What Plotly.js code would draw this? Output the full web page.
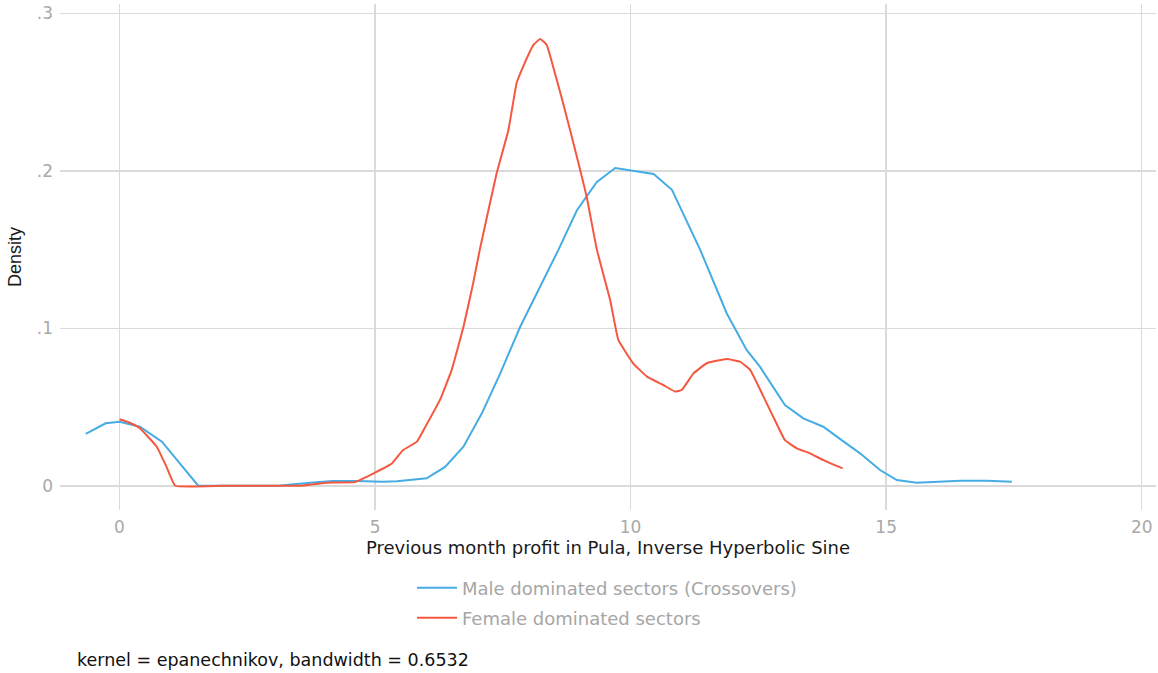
<!DOCTYPE html>
<html>
<head>
<meta charset="utf-8">
<script src="https://cdn.plot.ly/plotly-3.0.1.min.js"></script>
<style>
  html, body { margin: 0; padding: 0; background: #ffffff; }
  #chart { width: 1158px; height: 673px; }
</style>
</head>
<body>
<div id="chart"></div>
<script>
// Kernel density estimates of previous month profit (inverse hyperbolic sine of Pula)

const maleName = "Male dominated sectors (Crossovers)";
const maleX = [-0.66, -0.27, 0.0, 0.4, 0.83, 1.54, 2.0, 2.5, 3.1, 3.79, 4.18, 4.65, 5.15, 5.43,
  6.01, 6.37, 6.73, 7.09, 7.45, 7.84, 8.23, 8.59, 8.95, 9.34, 9.70, 10.45, 10.81, 11.36,
  11.88, 12.27, 12.53, 13.02, 13.38, 13.77, 14.13, 14.49, 14.88, 15.21, 15.6, 16.45, 16.97, 17.46];
const maleY = [0.0329, 0.0397, 0.0407, 0.0375, 0.028, 0, 0, 0, 0, 0.002, 0.003, 0.003, 0.0025, 0.0028,
  0.0047, 0.012, 0.0248, 0.046, 0.0714, 0.101, 0.1265, 0.150, 0.175, 0.193, 0.2018, 0.198, 0.188, 0.150,
  0.1096, 0.0863, 0.0757, 0.0513, 0.0428, 0.0375, 0.029, 0.0206, 0.010, 0.0036, 0.0019, 0.0032, 0.0032, 0.0025];

const femaleName = "Female dominated sectors";
const femaleX = [0, 0.2, 0.4, 0.73, 0.92, 1.09, 2.0, 3.0, 3.53, 3.92, 4.18, 4.61, 4.84, 5.1, 5.33,
  5.55, 5.82, 5.95, 6.27, 6.5, 6.73, 6.92, 7.05, 7.38, 7.61, 7.77, 7.9, 8.1, 8.23, 8.36, 8.52,
  8.68, 8.98, 9.14, 9.34, 9.6, 9.76, 10.05, 10.32, 10.64, 10.87, 11.0, 11.23, 11.49, 11.88,
  12.14, 12.34, 12.6, 12.79, 13.02, 13.25, 13.51, 13.77, 14.15];
const femaleY = [0.0422, 0.040, 0.0365, 0.0248, 0.012, 0, 0, 0, 0, 0.0015, 0.0021, 0.0023, 0.0057, 0.010, 0.0142,
  0.0227, 0.028, 0.0354, 0.0545, 0.0736, 0.101, 0.1287, 0.150, 0.1986, 0.226, 0.2558, 0.2664, 0.280, 0.2838, 0.280, 0.262,
  0.243, 0.205, 0.1837, 0.150, 0.118, 0.0926, 0.0778, 0.0693, 0.064, 0.0598, 0.0608, 0.0714, 0.0778, 0.0805,
  0.0788, 0.0736, 0.0566, 0.0439, 0.029, 0.0238, 0.0206, 0.0163, 0.011];

const xTicks = [0, 5, 10, 15, 20];
const xTickText = ["0", "5", "10", "15", "20"];
const yTicks = [0, 0.1, 0.2, 0.3];
const yTickText = ["0", ".1", ".2", ".3"];

const xTitle = "Previous month profit in Pula, Inverse Hyperbolic Sine";
const yTitle = "Density";
const note = "kernel = epanechnikov, bandwidth = 0.6532";

const WIDE = "DejaVu Sans, Verdana, sans-serif";
const NARROW = "Liberation Sans, Arial, sans-serif";
const BLUE = "#45ace4";
const RED = "#f6583f";
const GRID = "#dadada";
const TICK_GREY = "#a9a9a9";

const traces = [
  {
    x: maleX, y: maleY, type: "scatter", mode: "lines", name: maleName,
    line: { color: BLUE, width: 2 }, legend: "legend"
  },
  {
    x: femaleX, y: femaleY, type: "scatter", mode: "lines", name: femaleName,
    line: { color: RED, width: 2, shape: "spline", smoothing: 0.3 }, legend: "legend2"
  }
];

const legendStyle = {
  orientation: "v",
  xanchor: "left", yanchor: "middle",
  bgcolor: "rgba(0,0,0,0)",
  font: { family: WIDE, size: 18, color: "#a6a6a6" },
  itemwidth: 40
};

const layout = {
  width: 1158, height: 673,
  margin: { l: 60, r: 2, t: 4, b: 163 },
  paper_bgcolor: "#ffffff", plot_bgcolor: "#ffffff",
  font: { family: WIDE },
  showlegend: true,
  xaxis: {
    range: [-1.164, 20.28],
    tickvals: xTicks, ticktext: xTickText,
    showgrid: true, gridcolor: GRID, gridwidth: 1.6,
    zeroline: false, showline: false, ticks: "",
    ticklabelstandoff: 5,
    tickfont: { family: WIDE, size: 17, color: TICK_GREY },
    title: { text: xTitle, font: { family: WIDE, size: 18, color: "#1a1a1a" }, standoff: 0 }
  },
  yaxis: {
    range: [-0.0154, 0.306],
    tickvals: yTicks, ticktext: yTickText,
    showgrid: true, gridcolor: GRID, gridwidth: 1.6,
    zeroline: false, showline: false, ticks: "",
    ticklabelstandoff: 6,
    tickfont: { family: WIDE, size: 17, color: TICK_GREY },
    title: { text: yTitle, font: { family: NARROW, size: 18, color: "#1a1a1a" }, standoff: 10 }
  },
  legend: Object.assign({}, legendStyle, { x: (412 - 60) / 1096, y: -(588 - 510) / 506 }),
  legend2: Object.assign({}, legendStyle, { x: (412 - 60) / 1096, y: -(618 - 510) / 506 }),
  annotations: [
    {
      text: note, xref: "paper", yref: "paper",
      x: (75 - 60) / 1096, y: -(660 - 510) / 506,
      xanchor: "left", yanchor: "middle", showarrow: false,
      font: { family: WIDE, size: 17.5, color: "#111111" }
    }
  ]
};

Plotly.newPlot("chart", traces, layout, { displayModeBar: false, staticPlot: true });
</script>
</body>
</html>
